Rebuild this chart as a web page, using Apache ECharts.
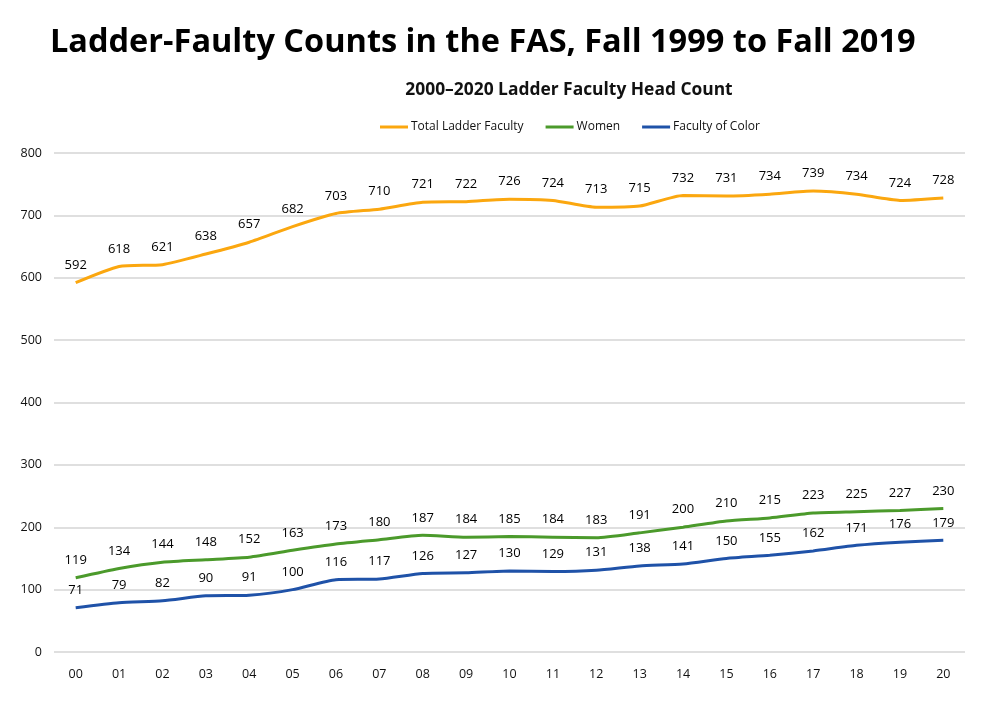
<!DOCTYPE html>
<html><head><meta charset="utf-8">
<script src="https://cdn.jsdelivr.net/npm/echarts@6/dist/echarts.min.js"></script>
<style>html,body{margin:0;padding:0;background:#fff}#c{width:1000px;height:703px}</style>
</head><body><div id="c"></div>
<script>
const categories = ['00','01','02','03','04','05','06','07','08','09','10','11','12','13','14','15','16','17','18','19','20'];
const totalLadder = [592,618,621,638,657,682,703,710,721,722,726,724,713,715,732,731,734,739,734,724,728];
const women = [119,134,144,148,152,163,173,180,187,184,185,184,183,191,200,210,215,223,225,227,230];
const facultyOfColor = [71,79,82,90,91,100,116,117,126,127,130,129,131,138,141,150,155,162,171,176,179];
const seriesNames = ['Total Ladder Faculty','Women','Faculty of Color'];

const chart = echarts.init(document.getElementById('c'));
const font = 'Open Sans';
function mk(name, data, color){
  return {name, type:'line', data, smooth:0.2, symbol:'circle', symbolSize:0, showSymbol:true,
    lineStyle:{width:3,color}, itemStyle:{color},
    label:{show:true, position:'top', distance:11, color:'#000', fontFamily:font, fontSize:13}};
}
chart.setOption({
  animation:false,
  title:[
    {text:'Ladder-Faulty Counts in the FAS, Fall 1999 to Fall 2019', left:45, top:21,
     textStyle:{fontFamily:font, fontWeight:'bold', fontSize:32.5, color:'#000'}},
    {text:'2000–2020 Ladder Faculty Head Count', left:564, textAlign:'center', top:77,
     textStyle:{fontFamily:font, fontWeight:'bold', fontSize:17.4, color:'#111'}}
  ],
  legend:{top:116, left:375, orient:'horizontal',
    data:seriesNames, itemWidth:28, itemHeight:3, itemGap:22, icon:'rect',
    textStyle:{fontFamily:font, fontSize:12, color:'#111', padding:[0,0,0,-2]}},
  grid:{left:54, right:35, top:153, bottom:51},
  xAxis:{type:'category', data:categories, boundaryGap:true,
    axisLine:{show:false}, axisTick:{show:false},
    axisLabel:{fontFamily:font, fontSize:12.5, color:'#111', margin:16}},
  yAxis:{type:'value', min:0, max:800, interval:100,
    axisLine:{show:false}, axisTick:{show:false},
    splitLine:{lineStyle:{color:'#d4d4d4', width:1.5}},
    axisLabel:{fontFamily:font, fontSize:12.5, color:'#111', margin:12}},
  series:[mk(seriesNames[0], totalLadder, '#FBA70F'), mk(seriesNames[1], women, '#4B9A2B'), mk(seriesNames[2], facultyOfColor, '#1F52A8')]
});
</script></body></html>
